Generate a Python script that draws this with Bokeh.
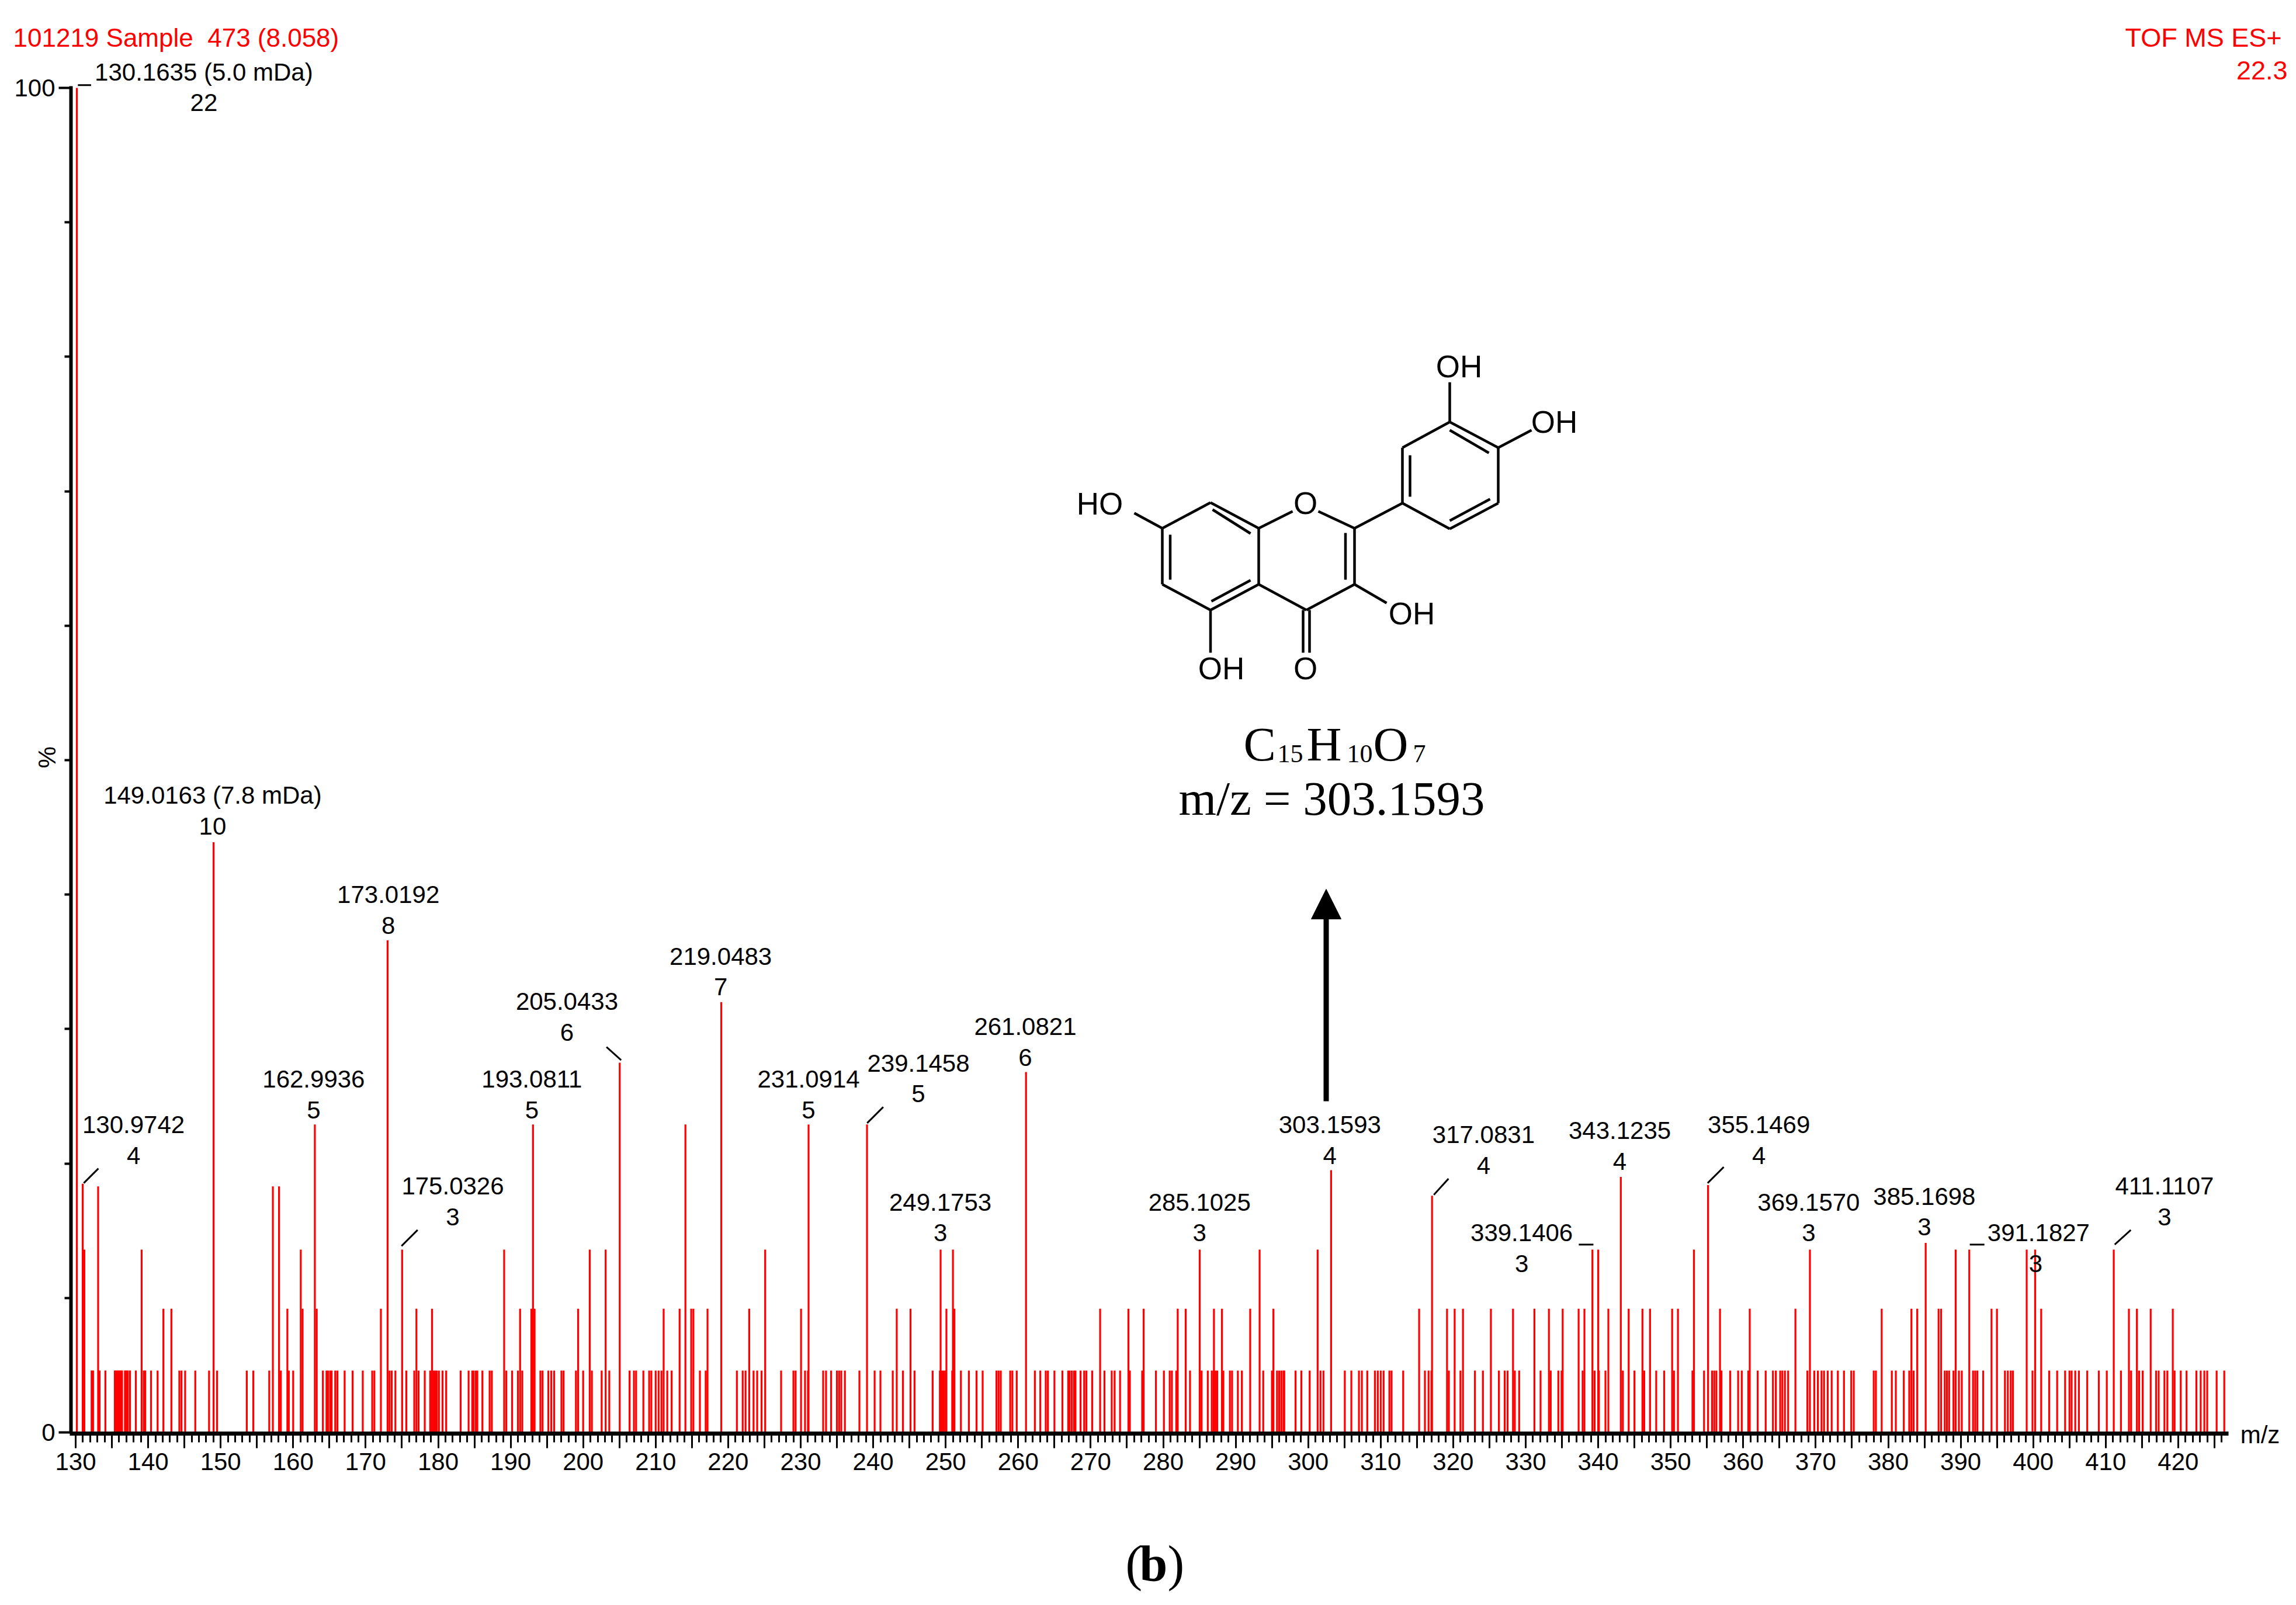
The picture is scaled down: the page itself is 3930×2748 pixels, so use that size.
from math import pi
from bokeh.plotting import figure
from bokeh.models import FixedTicker, Arrow, NormalHead
from bokeh.core.properties import value
from bokeh.embed import file_html
from bokeh.resources import INLINE

# ---------- data (m/z, % relative intensity) ----------
level1_mz = [132.2,132.4,133.3,134.1,135.4,135.6,135.8,136.0,136.2,136.4,136.8,137.0,137.2,137.5,138.3,
 139.4,139.6,140.4,141.3,144.3,144.6,145.1,146.5,148.4,149.5,153.6,154.5,156.7,158.3,159.4,160.0,
 164.1,164.6,164.8,165.1,165.3,165.8,166.1,167.1,168.2,169.6,170.9,171.2,173.3,173.6,174.1,175.6,
 176.7,177.3,178.15,178.9,179.4,179.6,179.8,180.1,180.6,181.1,183.1,184.2,184.7,184.9,185.2,185.4,
 186.1,187.1,187.4,189.4,190.2,191.0,191.6,194.1,194.4,195.2,195.6,196.0,197.0,197.3,199.0,200.0,
 201.2,202.55,203.6,206.4,207.0,207.3,208.3,209.1,209.4,210.0,210.4,210.8,211.6,212.2,216.1,216.9,
 221.2,222.0,222.4,223.5,224.0,224.6,227.3,229.0,229.3,230.6,231.0,233.1,233.5,234.2,235.0,235.3,235.6,
 236.1,238.1,240.2,241.0,242.7,244.1,245.7,248.2,249.2,249.5,249.75,250.0,250.9,252.1,253.2,254.25,255.1,
 257.0,257.3,257.6,258.9,259.2,259.8,262.3,263.05,263.8,264.1,265.0,266.1,266.9,267.1,267.4,267.7,267.9,
 268.6,269.1,269.4,270.2,271.9,272.9,273.3,274.05,275.4,277.1,279.0,280.1,280.9,281.2,281.8,283.7,285.3,
 286.15,286.7,286.95,287.2,287.45,288.3,289.2,289.5,290.3,290.85,293.8,295.0,295.7,296.0,296.3,296.6,296.7,
 298.25,299.05,300.2,301.7,302.1,305.05,305.95,307.0,307.4,308.15,309.2,309.6,310.0,310.4,311.2,311.5,313.1,
 316.1,316.6,317.0,319.4,321.0,323.0,324.1,326.3,327.1,327.5,328.5,329.1,332.05,333.45,334.5,334.95,337.85,
 339.5,340.1,341.0,343.4,345.0,346.35,348.0,349.1,350.45,353.0,354.6,355.7,356.0,356.3,357.0,358.2,359.3,359.8,
 360.7,362.0,363.1,364.1,364.5,365.1,365.4,365.75,366.2,368.85,369.8,370.3,370.8,371.15,371.65,372.2,373.05,
 373.9,374.9,375.25,378.0,378.3,380.5,381.05,382.15,382.9,383.5,387.8,388.1,388.4,389.0,389.75,390.15,391.7,
 392.0,392.3,393.1,396.1,396.5,396.9,397.2,399.9,402.2,403.3,404.4,405.0,405.3,405.8,406.3,407.45,409.05,410.15,
 412.1,413.5,414.6,415.1,416.95,417.3,418.1,418.5,419.5,420.35,421.15,422.5,423.1,423.6,424.0,425.3,426.35]
level2_mz = [142.1,143.2,159.2,161.3,163.25,172.1,177.0,179.15,191.3,192.85,193.3,199.3,211.1,213.3,214.9,215.2,
 217.15,222.9,230.05,243.25,245.15,250.1,251.2,271.3,275.2,277.3,282.0,283.1,287.0,288.1,292.0,295.2,315.3,
 319.15,320.2,321.35,325.2,328.25,331.2,333.2,335.1,337.3,338.1,341.4,344.2,346.1,347.15,350.2,351.0,356.8,360.9,
 367.2,379.1,383.2,384.0,386.95,387.3,394.25,395.0,401.1,413.2,414.3,416.2,419.25]
level3_mz = [131.2,139.1,161.05,175.03,189.1,200.9,203.1,225.1,249.3,251.0,285.03,293.3,301.3,339.2,340.0,353.2,
 369.2,389.3,391.18,399.1,400.26,411.11]
tall_mz = [130.16,130.97,133.1,149.02,157.2,158.05,162.99,173.02,193.08,205.04,214.1,219.05,231.09,239.15,261.08,
 303.16,317.08,343.12,355.15,385.17]
tall_pct = [100.0,18.5,18.3,43.9,18.3,18.3,22.9,36.6,22.9,27.5,22.9,32.0,22.9,22.9,26.8,19.5,17.6,19.0,18.4,14.1]
LEVEL1, LEVEL2, LEVEL3 = 4.6, 9.2, 13.6

peak_names = ["130.1635 (5.0 mDa)","130.9742","149.0163 (7.8 mDa)","173.0192","162.9936","175.0326","193.0811",
 "205.0433","219.0483","231.0914","239.1458","249.1753","261.0821","285.1025","303.1593","317.0831","339.1406",
 "343.1235","355.1469","369.1570","385.1698","391.1827","411.1107"]
peak_counts = ["22","4","10","8","5","3","5","6","7","5","5","3","6","3","4","4","3","4","4","3","3","3","3"]

# ---------- layout (reference pixels) ----------
S = 3930 / 1568
name_x = [139,91,145,265,214,309,363,387,492,552,627,642,700,819,908,1013,1039,1106,1201,1235,1314,1392,1478]
name_y = [49,768,543,611,737,810,737,684,653,737,726,821,701,821,768,775,842,772,768,821,817,842,810]
count_x = [139,91,145,265,214,309,363,387,492,552,627,642,700,819,908,1013,1039,1106,1201,1235,1314,1390,1478]
leaders = [(53,58,62,58),(57,808,67,798),(274,851,285,840),(424,724,414,715),(592,767,603,756),(979,816,989,805),
           (1078,850,1088,850),(1166,808,1177,797),(1345,850,1355,850),(1444,850,1455,840)]

def dx(px): return 130 + (px - 129) / 12.41
def dy(py): return (2452 - py) / 23.02

RED, BLACK = "#ff0000", "#000000"
SANS, SERIF = "Liberation Sans", "Liberation Serif"

p = figure(width=3930, height=2748, output_backend="svg", toolbar_location=None,
           x_range=(dx(0), dx(3930)), y_range=(dy(2748), dy(0)), min_border=0,
           outline_line_color=None, background_fill_color="white", border_fill_color="white")
p.grid.visible = False

xa = p.xaxis[0]
xa.fixed_location = dy(2454)
xa.bounds = (dx(119), dx(3814))
xa.ticker = FixedTicker(ticks=list(range(130, 426, 5)), minor_ticks=list(range(130, 427)))
xa.major_label_overrides = {t: (str(t) if t % 10 == 0 else "") for t in range(130, 426, 5)}
xa.axis_line_width, xa.axis_line_color = 7, BLACK
xa.major_tick_line_width = xa.minor_tick_line_width = 3
xa.major_tick_line_color = xa.minor_tick_line_color = BLACK
xa.major_tick_out, xa.major_tick_in, xa.minor_tick_out, xa.minor_tick_in = 25, 0, 15, 0
xa.major_label_text_font, xa.major_label_text_font_size = SANS, "42px"
xa.major_label_text_color, xa.major_label_standoff = BLACK, 8

ya = p.yaxis[0]
ya.fixed_location = dx(121)
ya.bounds = (dy(2454), dy(147))
ya.ticker = FixedTicker(ticks=[0, 100], minor_ticks=list(range(10, 100, 10)))
ya.axis_line_width, ya.axis_line_color = 6, BLACK
ya.major_tick_line_width = ya.minor_tick_line_width = 4
ya.major_tick_line_color = ya.minor_tick_line_color = BLACK
ya.major_tick_out, ya.major_tick_in, ya.minor_tick_out, ya.minor_tick_in = 21, 0, 11, 0
ya.major_label_text_font, ya.major_label_text_font_size = SANS, "42px"
ya.major_label_text_color, ya.major_label_standoff = BLACK, 6

# spectrum stems
xs = level1_mz + level2_mz + level3_mz + tall_mz
ys = [LEVEL1]*len(level1_mz) + [LEVEL2]*len(level2_mz) + [LEVEL3]*len(level3_mz) + tall_pct
p.segment(x0=xs, y0=[0]*len(xs), x1=xs, y1=ys, line_color=RED, line_width=3.2)

def txt(items, size, color=BLACK, font=SANS, align="center", baseline="middle", angle=0, style="normal"):
    """items: (text, page_x, page_y)"""
    p.text(x=[dx(i[1]) for i in items], y=[dy(i[2]) for i in items], text=[i[0] for i in items],
           text_font=value(font), text_font_size=f"{size}px", text_color=color, text_align=align,
           text_baseline=baseline, angle=angle, text_font_style=style)

# peak annotations
txt([(n, x*S, y*S) for n, x, y in zip(peak_names, name_x, name_y)], 42)
txt([(c, x*S, (y+21)*S) for c, x, y in zip(peak_counts, count_x, name_y)], 42)
p.segment(x0=[dx(l[0]*S) for l in leaders], y0=[dy(l[1]*S) for l in leaders],
          x1=[dx(l[2]*S) for l in leaders], y1=[dy(l[3]*S) for l in leaders],
          line_color=BLACK, line_width=3)

# headers and axis names
txt([("101219 Sample \u00a0473 (8.058)", 22, 64)], 44, RED, align="left")
txt([("TOF MS ES+", 3905, 64), ("22.3", 3915, 120)], 45, RED, align="right")
txt([("m/z", 3868, 2456)], 42)
txt([("%", 80, 1296)], 42, angle=pi/2)

# arrow
p.add_layout(Arrow(end=NormalHead(size=51, fill_color=BLACK, line_color=BLACK, line_width=1),
                   x_start=dx(2269.5), y_start=dy(1885), x_end=dx(2269.5), y_end=dy(1522),
                   line_color=BLACK, line_width=9))

# structure (quercetin) bonds
bonds = [(2071.5,860,2154,904),(2154,904,2154,1000),(2154,1000,2071.5,1044),(2071.5,1044,1989,1000),(1989,1000,1989,904),
         (1989,904,2071.5,860),(2154,904,2212,875),(2256,875,2318,904),(2318,904,2318,1000),(2318,1000,2235.6,1044),
         (2235.6,1044,2154,1000),(2318,904,2400,861),(2400,861,2400,766),(2400,766,2481,722),(2481,722,2564,766),
         (2564,766,2564,861),(2564,861,2481,905),(2481,905,2400,861),
         (2075,872,2140,913),(2002.5,915,2002.5,992),(2140,993,2073,1029),(2302.5,912,2302.5,992),
         (2413,779,2413,850),(2481,736,2548,775),(2550,854,2481,891),
         (2481,722,2481,654),(2564,766,2621,736),(1989,904,1941,878),(2071.5,1044,2071.5,1117),
         (2318,1000,2373,1032),(2230,1044,2230,1117),(2241,1044,2241,1117)]
p.segment(x0=[dx(b[0]) for b in bonds], y0=[dy(b[1]) for b in bonds], x1=[dx(b[2]) for b in bonds], y1=[dy(b[3]) for b in bonds],
          line_color=BLACK, line_width=4.5)
txt([("OH",2497,627),("OH",2660,722),("HO",1882,862),("O",2234,861),("OH",2416,1050),("OH",2090,1144),("O",2234,1144)], 53)

# formula
txt([("C",2128,1273),("H",2236,1273),("O",2350,1273)], 83, font=SERIF, align="left")
txt([("15",2186,1290),("10",2305,1290),("7",2418,1290)], 44, font=SERIF, align="left")
txt([("m/z = 303.1593",2279,1366)], 83, font=SERIF)

# panel letter
txt([("(",1926,2676),(")",1998,2676)], 86, font=SERIF, align="left")
txt([("b",1950,2676)], 86, font=SERIF, align="left", style="bold")

open("out.html", "w").write(file_html(p, INLINE))
